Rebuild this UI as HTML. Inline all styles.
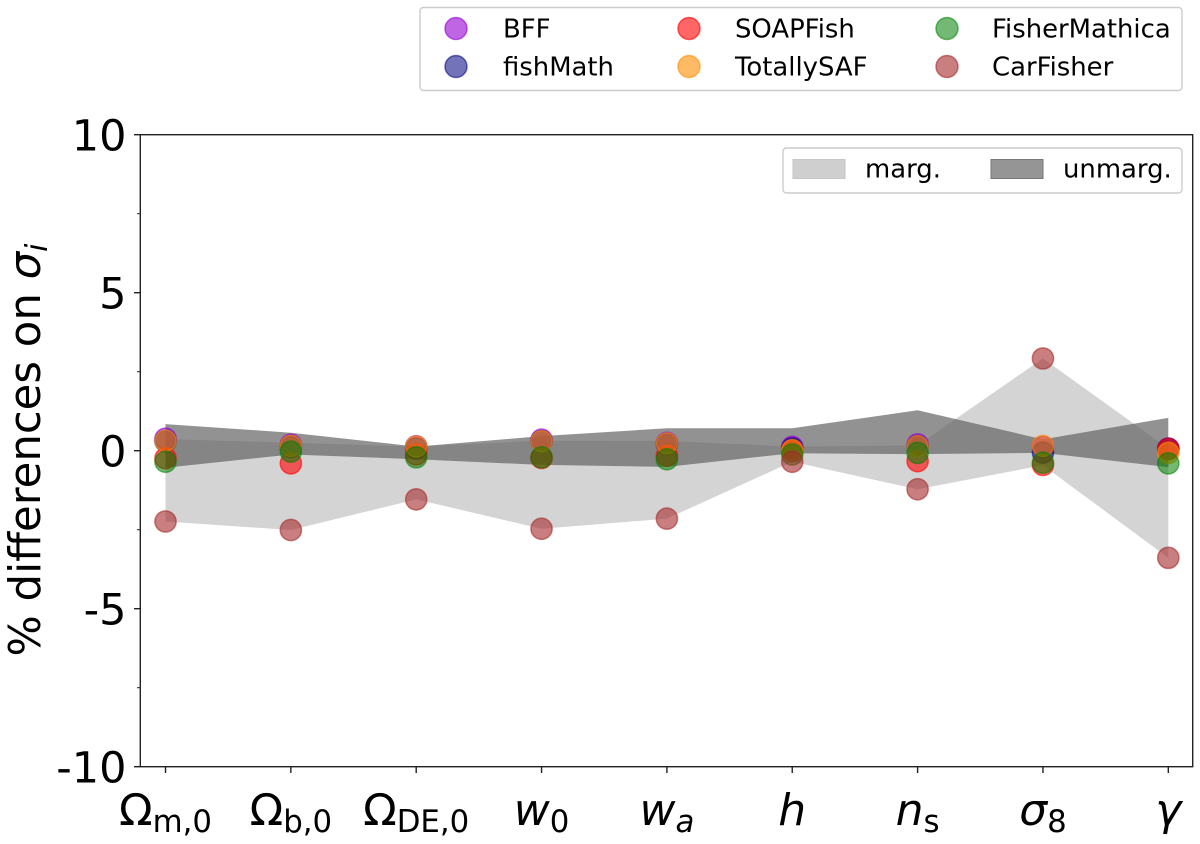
<!DOCTYPE html>
<html lang="en">
<head>
<meta charset="utf-8">
<title>% differences on sigma</title>
<style>
html,body{margin:0;padding:0;background:#fff;width:1200px;height:844px;overflow:hidden}
svg{display:block}
text{font-family:"DejaVu Sans","Liberation Sans",sans-serif;fill:#000}
</style>
</head>
<body>
<svg id="chart" xmlns="http://www.w3.org/2000/svg" width="1200" height="844" viewBox="0 0 1200 844">
  <g id="bands"></g>
  <g id="points"></g>
  <rect x="140.3" y="134.7" width="1052.4" height="632" fill="none" stroke="#222" stroke-width="1.4"/>
  <g id="axes"></g>
  <text transform="translate(40,450) rotate(-90)" text-anchor="middle" font-size="43.4">% differences on <tspan font-style="italic">σ</tspan><tspan font-style="italic" font-size="30" dy="7">i</tspan></text>

  <g>
    <rect x="420" y="7.5" width="762" height="83" rx="3.5" fill="#fff" stroke="#ccc" stroke-width="1.4"/>
    <g><circle cx="456" cy="28.5" r="11" fill="darkviolet" fill-opacity=".6" stroke="darkviolet" stroke-opacity=".6" stroke-width="1.5"/><text x="503" y="37.7" font-size="25.9">BFF</text></g>
    <g><circle cx="456" cy="66.5" r="11" fill="navy" fill-opacity=".55" stroke="navy" stroke-opacity=".55" stroke-width="1.5"/><text x="503" y="75.7" font-size="25.9">fishMath</text></g>
    <g><circle cx="689" cy="28.5" r="11" fill="red" fill-opacity=".6" stroke="red" stroke-opacity=".6" stroke-width="1.5"/><text x="735" y="37.7" font-size="25.9">SOAPFish</text></g>
    <g><circle cx="689" cy="66.5" r="11" fill="darkorange" fill-opacity=".6" stroke="darkorange" stroke-opacity=".6" stroke-width="1.5"/><text x="735" y="75.7" font-size="25.9">TotallySAF</text></g>
    <g><circle cx="947" cy="28.5" r="11" fill="green" fill-opacity=".55" stroke="green" stroke-opacity=".55" stroke-width="1.5"/><text x="992" y="37.7" font-size="25.9">FisherMathica</text></g>
    <g><circle cx="947" cy="66.5" r="11" fill="brown" fill-opacity=".6" stroke="brown" stroke-opacity=".6" stroke-width="1.5"/><text x="992" y="75.7" font-size="25.9">CarFisher</text></g>
  </g>

  <g>
    <rect x="783" y="148" width="399" height="45" rx="3.5" fill="#fff" stroke="#ccc" stroke-width="1.4"/>
    <g><rect x="793" y="159.5" width="52" height="19" fill="#cfcfcf" stroke="#c6c6c6" stroke-width="1"/><text x="865" y="177.5" font-size="25.9">marg.</text></g>
    <g><rect x="991" y="159.5" width="52" height="19" fill="#959595" stroke="#777" stroke-width="1"/><text x="1063" y="177.5" font-size="25.9">unmarg.</text></g>
  </g>
</svg>

<script>
const categoryBase = ['Ω','Ω','Ω','w','w','h','n','σ','γ'];
const categorySub = ['m,0','b,0','DE,0','0','a','','s','8',''];
const yTickValues = [10,5,0,-5,-10];
const yTickLabels = ['10','5','0','-5','-10'];
const yMinorTickValues = [7.5,2.5,-2.5,-7.5];

const margUpper = [0.37,0.25,0.13,0.32,0.31,0.13,0.17,2.92,0.07];
const margLower = [-2.24,-2.51,-1.54,-2.47,-2.15,-0.35,-1.22,-0.46,-3.39];
const unmargUpper = [0.84,0.57,0.13,0.46,0.71,0.71,1.28,0.36,1.04];
const unmargLower = [-0.54,-0.12,-0.27,-0.45,-0.51,-0.08,-0.11,-0.07,-0.52];

const bffValues = [0.38,0.19,0.14,0.35,0.25,0.12,0.20,0.12,0.07];
const fishMathValues = [0.30,0.12,0.07,0.30,0.21,0.07,0.14,-0.06,0.06];
const soapFishValues = [-0.24,-0.40,-0.12,-0.23,-0.16,-0.01,-0.33,-0.45,0.05];
const totallySafValues = [0.31,0.15,0.13,0.30,0.23,0.02,0.14,0.15,-0.07];
const fisherMathicaValues = [-0.35,-0.03,-0.21,-0.21,-0.27,-0.12,-0.07,-0.38,-0.40];
const carFisherValues = [-2.24,-2.51,-1.54,-2.47,-2.15,-0.35,-1.22,2.92,-3.39];

const NS = 'http://www.w3.org/2000/svg';
function xScale(i){ return 165.5 + 125.35 * i; }
function yScale(v){ return 450.7 - 31.6 * v; }
function make(tag, attrs, parent){
  const el = document.createElementNS(NS, tag);
  for (const k in attrs) el.setAttribute(k, attrs[k]);
  parent.appendChild(el);
  return el;
}
function bandPath(upper, lower){
  const top = upper.map((v,i)=>xScale(i).toFixed(2)+','+yScale(v).toFixed(2));
  const bot = lower.map((v,i)=>xScale(i).toFixed(2)+','+yScale(v).toFixed(2)).reverse();
  return top.concat(bot).join(' ');
}

const bandsG = document.getElementById('bands');
const margBand = make('polygon', {points: bandPath(margUpper, margLower), fill:'#a0a0a0', 'fill-opacity':'.45'}, bandsG);


const unmargBand = make('polygon', {points: bandPath(unmargUpper, unmargLower), fill:'#646464', 'fill-opacity':'.7'}, bandsG);



const pointsG = document.getElementById('points');
function drawSeries(values, color, opacity, name){
  values.forEach((v,i)=>{
    const c = make('circle', {cx:xScale(i), cy:yScale(v), r:10.6, fill:color, 'fill-opacity':opacity, stroke:color, 'stroke-opacity':opacity, 'stroke-width':1.5}, pointsG);
    
    
  });
}
drawSeries(bffValues, 'darkviolet', .6, 'bff');
drawSeries(fishMathValues, 'navy', .55, 'fishmath');
drawSeries(soapFishValues, 'red', .6, 'soapfish');
drawSeries(totallySafValues, 'darkorange', .6, 'totallysaf');
drawSeries(fisherMathicaValues, 'green', .55, 'fishermathica');
drawSeries(carFisherValues, 'brown', .6, 'carfisher');

const axesG = document.getElementById('axes');
yTickValues.forEach((v,i)=>{
  const y = yScale(v);
  const t = make('line', {x1:134, x2:140.3, y1:y, y2:y, stroke:'#222', 'stroke-width':1.4}, axesG);
  
  
  const l = make('text', {x:126.5, y:y+15.6, 'text-anchor':'end', 'font-size':43}, axesG);
  
  
  l.textContent = yTickLabels[i];
});
yMinorTickValues.forEach(v=>{
  const y = yScale(v);
  const t = make('line', {x1:137, x2:140.3, y1:y, y2:y, stroke:'#222', 'stroke-width':1}, axesG);
  
  
});
categoryBase.forEach((b,i)=>{
  const x = xScale(i);
  const t = make('line', {x1:x, x2:x, y1:766.7, y2:773, stroke:'#222', 'stroke-width':1.4}, axesG);
  
  
  const l = make('text', {x:x, y:825, 'text-anchor':'middle', 'font-size':44}, axesG);
  
  
  const base = make('tspan', {}, l);
  if (b !== 'Ω') base.setAttribute('font-style', 'italic');
  base.textContent = b;
  if (categorySub[i]) {
    const s = make('tspan', {'font-size':30.8, dy:7}, l);
    if (categorySub[i] === 'a') s.setAttribute('font-style', 'italic');
    s.textContent = categorySub[i];
  }
});
</script>
</body>
</html>
